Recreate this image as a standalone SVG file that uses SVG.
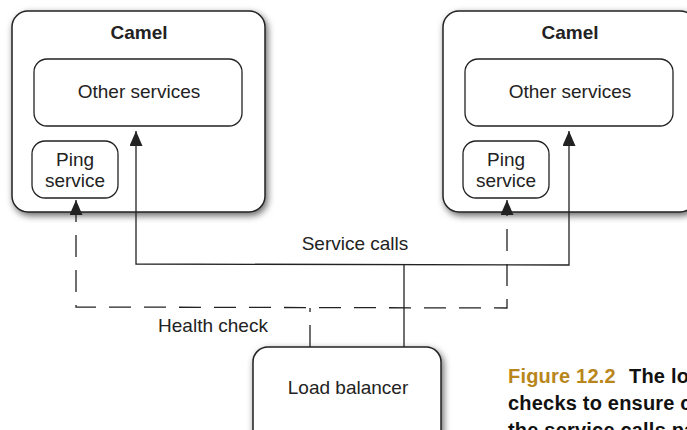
<svg xmlns="http://www.w3.org/2000/svg" width="687" height="430" viewBox="0 0 687 430">
  <style>
    .box { fill: #fff; stroke: #222; stroke-width: 1.5; }
    .inner { fill: #fff; stroke: #222; stroke-width: 1.3; }
    .shadow { filter: url(#sh); }
    .lbl { font-family: "Liberation Sans", Arial, sans-serif; font-size: 19px; fill: #222; text-anchor: middle; }
    .bold { font-weight: bold; }
    .line { fill: none; stroke: #222; stroke-width: 1.3; }
    .dash { stroke-dasharray: 22 13; }
    .cap { font-family: "Liberation Sans", Arial, sans-serif; font-size: 20px; font-weight: bold; letter-spacing: 0.2px; fill: #111; }
    .fig { fill: #B8861B; }
  </style>
  <defs>
    <filter id="sh" x="-10%" y="-10%" width="130%" height="130%">
      <feDropShadow dx="2" dy="3" stdDeviation="3.5" flood-color="#000" flood-opacity="0.6"/>
    </filter>
    <marker id="arr" markerUnits="userSpaceOnUse" markerWidth="15" markerHeight="13" viewBox="0 0 15 13" refX="15" refY="6.5" orient="auto-start-reverse">
      <path d="M0,0 L15,6.5 L0,13 z" fill="#222" stroke="none"/>
    </marker>
  </defs>

  <g id="camel-left">
    <rect class="box shadow" x="12" y="11" width="253" height="201" rx="16"/>
    <text class="lbl bold" x="139" y="39">Camel</text>
    <g id="other-left">
      <rect class="inner" x="34" y="59" width="208" height="67" rx="13"/>
      <text class="lbl" x="139" y="98">Other services</text>
    </g>
    <g id="ping-left">
      <rect class="inner" x="32" y="141" width="86" height="57" rx="13"/>
      <text class="lbl" x="75" y="166">Ping</text>
      <text class="lbl" x="75" y="187">service</text>
    </g>
  </g>

  <g id="camel-right">
    <rect class="box shadow" x="443" y="11" width="253" height="201" rx="16"/>
    <text class="lbl bold" x="570" y="39">Camel</text>
    <g id="other-right">
      <rect class="inner" x="465" y="59" width="208" height="67" rx="13"/>
      <text class="lbl" x="570" y="98">Other services</text>
    </g>
    <g id="ping-right">
      <rect class="inner" x="463" y="141" width="86" height="57" rx="13"/>
      <text class="lbl" x="506" y="166">Ping</text>
      <text class="lbl" x="506" y="187">service</text>
    </g>
  </g>

  <g id="load-balancer">
    <rect class="box shadow" x="253" y="347" width="188" height="100" rx="15"/>
    <text class="lbl" x="348" y="394">Load balancer</text>
  </g>

  <g id="connectors">
    <path class="line" d="M136,131 L136,264 L569,265 L569,131" marker-start="url(#arr)" marker-end="url(#arr)"/>
    <path class="line" d="M404,265 L404,347"/>
    <path class="line dash" d="M76,200 L76,307 L507,308 L507,200" marker-start="url(#arr)" marker-end="url(#arr)"/>
    <path class="line" d="M310,308 L310,347" style="stroke-dasharray: 4 13 30"/>
    <text class="lbl" x="355" y="250">Service calls</text>
    <text class="lbl" x="213" y="332">Health check</text>
  </g>

  <g id="caption">
    <text class="cap" x="508" y="383"><tspan class="fig">Figure 12.2</tspan><tspan x="629">The lo</tspan></text>
    <text class="cap" x="508" y="410">checks to ensure c</text>
    <text class="cap" x="508" y="437">the service calls pa</text>
  </g>
</svg>
